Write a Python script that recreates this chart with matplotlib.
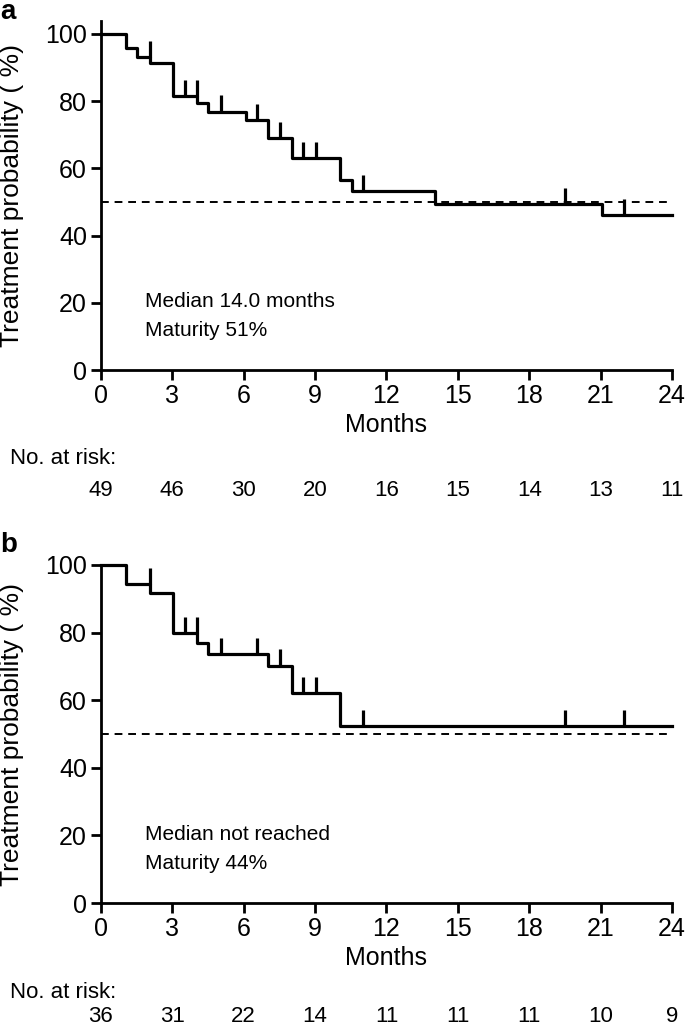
import numpy as np
import matplotlib
matplotlib.use("Agg")
import matplotlib.pyplot as plt

plt.rcParams['font.family'] = ['Liberation Sans', 'DejaVu Sans']

# panel a
a_times = [0, 1.05, 1.53, 2.06, 3.04, 4.02, 4.51, 6.08, 7.03, 8.01, 10.04, 10.53, 14.03, 21.04]
a_surv = [100, 95.9, 93.2, 91.3, 81.6, 79.4, 76.9, 74.5, 69.0, 63.1, 56.5, 53.2, 49.5, 46.0]
a_censor = [2.06, 3.53, 4.02, 5.03, 6.54, 7.52, 8.5, 9.03, 11.02, 19.5, 22.0]
a_risk = [49, 46, 30, 20, 16, 15, 14, 13, 11]
a_text = ["Median 14.0 months", "Maturity 51%"]

# panel b
b_times = [0, 1.05, 2.06, 3.04, 4.02, 4.51, 7.03, 8.01, 10.04]
b_surv = [100, 94.4, 91.6, 79.8, 77.0, 73.6, 70.2, 62.2, 52.4]
b_censor = [2.06, 3.53, 4.02, 5.03, 6.54, 7.52, 8.5, 9.03, 11.02, 19.5, 22.0]
b_risk = [36, 31, 22, 14, 11, 11, 11, 10, 9]
b_text = ["Median not reached", "Maturity 44%"]

risk_months = [0, 3, 6, 9, 12, 15, 18, 21, 24]
x_end = 24


def km_panel(ax, times, surv, censor, risk, text, letter, ytop, y_risk_lbl, y_risk_num, y_letter):
    t = list(times) + [x_end]
    s = list(surv) + [surv[-1]]
    ax.step(t, s, where='post', color='black', lw=2.3, clip_on=False, zorder=3)
    # censor marks: value just before any drop at the same time
    for c in censor:
        i = np.searchsorted(times, c, side='left') - 1
        y = surv[i]
        ax.plot([c, c], [y, y + 4.8], color='black', lw=2.3, solid_capstyle='butt', zorder=3)
    ax.plot([0, x_end], [50, 50], color='black', lw=1.4, ls=(0, (4, 3)), zorder=2)

    ax.set_xlim(0, x_end)
    ax.set_ylim(0, ytop)
    ax.set_xticks(risk_months)
    ax.set_yticks([0, 20, 40, 60, 80, 100])
    for side in ['top', 'right']:
        ax.spines[side].set_visible(False)
    for side in ['left', 'bottom']:
        ax.spines[side].set_linewidth(2)
    ax.tick_params(width=2, length=7, labelsize=18, pad=3)
    ax.set_xlabel("Months", fontsize=18, labelpad=4)
    ax.set_ylabel("Treatment probability ( %)", fontsize=19)
    ax.yaxis.set_label_coords(-0.135, 0.5)

    ax.text(1.85, 18.7, text[0], fontsize=15, va='baseline')
    ax.text(1.85, 10.1, text[1], fontsize=15, va='baseline')

    tr = ax.get_xaxis_transform()
    ax.text(-0.16, y_risk_lbl, "No. at risk:", transform=ax.transAxes, fontsize=16, va='center', ha='left')
    for m, n in zip(risk_months, risk):
        ax.text(m, y_risk_num, str(n), transform=tr, fontsize=16, ha='center', va='center')
    ax.text(-0.176, y_letter, letter, transform=ax.transAxes,
            fontsize=20, fontweight='bold', va='center', ha='left')


fig = plt.figure(figsize=(6.85, 10.25), dpi=100)
ax_a = fig.add_axes([0.1474, 0.639, 0.8336, 0.341])
ax_b = fig.add_axes([0.1474, 0.119, 0.8336, 0.3298])

km_panel(ax_a, a_times, a_surv, a_censor, a_risk, a_text, "a", 104, -0.252, -0.345, 1.025)
km_panel(ax_b, b_times, b_surv, b_censor, b_risk, b_text, "b", 100, -0.266, -0.335, 1.06)

fig.savefig("out.png", dpi=100)
